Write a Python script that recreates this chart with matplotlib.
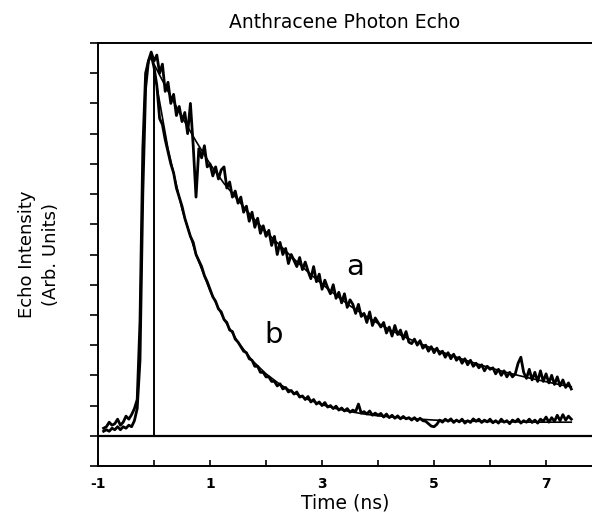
import numpy as np
import matplotlib
matplotlib.use("Agg")
import matplotlib.pyplot as plt

# echo decay traces (time in ns, arb. units)
t_data = np.arange(-0.9, 7.46, 0.05)

echo_a = [0.25, 0.3, 0.45, 0.35, 0.4, 0.55, 0.35, 0.45, 0.65, 0.55,
          0.7, 0.9, 1.2, 3.8, 9.5, 12.0, 12.4, 12.7, 12.4, 12.6,
          12.0, 12.3, 11.4, 11.7, 11.0, 11.3, 10.6, 10.9, 10.4, 10.7,
          10.0, 11.0, 9.6, 7.9, 9.5, 9.2, 9.6, 8.9, 9.0, 8.6,
          8.9, 8.5, 8.8, 8.9, 8.2, 8.4, 7.9, 8.1, 7.7, 7.9,
          7.4, 7.6, 7.1, 7.4, 6.9, 7.2, 6.7, 6.95, 6.6, 6.8,
          6.3, 6.6, 6.0, 6.4, 6.0, 6.2, 5.7, 6.0, 5.8, 5.6,
          5.9, 5.5, 5.75, 5.45, 5.2, 5.6, 5.1, 5.35, 4.85, 5.15,
          4.9, 4.7, 5.0, 4.55, 4.75, 4.4, 4.7, 4.25, 4.5, 4.35,
          4.05, 4.35, 3.95, 4.05, 3.75, 4.1, 3.65, 3.9, 3.75, 3.6,
          3.75, 3.4, 3.6, 3.3, 3.65, 3.35, 3.5, 3.2, 3.45, 3.1,
          3.05, 3.2, 3.0, 3.15, 2.9, 3.0, 2.8, 2.95, 2.75, 2.9,
          2.7, 2.8, 2.6, 2.75, 2.55, 2.7, 2.5, 2.6, 2.4, 2.55,
          2.35, 2.5, 2.3, 2.4, 2.25, 2.35, 2.15, 2.3, 2.2, 2.25,
          2.05, 2.2, 2.0, 2.15, 1.95, 2.1, 1.95, 2.05, 2.4, 2.6,
          2.1, 1.9, 2.2, 1.85, 2.1, 1.8, 2.15, 1.8, 2.05, 1.75,
          2.0, 1.7, 1.95, 1.65, 1.85, 1.6, 1.75, 1.55]

echo_b = [0.15, 0.2, 0.15, 0.25, 0.2, 0.3, 0.2, 0.3, 0.25, 0.35,
          0.3, 0.5, 0.9, 2.5, 8.0, 11.5, 12.4, 12.6, 12.2, 11.6,
          10.5, 10.3, 9.8, 9.4, 9.0, 8.7, 8.2, 7.9, 7.6, 7.2,
          6.9, 6.6, 6.4, 6.0, 5.8, 5.6, 5.3, 5.1, 4.85, 4.6,
          4.45, 4.2, 4.1, 3.85, 3.75, 3.5, 3.45, 3.2, 3.1, 2.95,
          2.8, 2.75, 2.55, 2.5, 2.3, 2.3, 2.1, 2.1, 1.95, 1.95,
          1.8, 1.8, 1.65, 1.72, 1.55, 1.6, 1.45, 1.5, 1.38, 1.45,
          1.28, 1.32, 1.2, 1.3, 1.12, 1.2, 1.05, 1.12, 1.0, 1.1,
          0.95, 1.0, 0.9, 0.98, 0.85, 0.92, 0.82, 0.9, 0.78, 0.85,
          0.8, 1.05, 0.75, 0.8, 0.72, 0.82, 0.68, 0.75, 0.68, 0.74,
          0.62, 0.72, 0.6, 0.68, 0.58, 0.66, 0.56, 0.64, 0.56, 0.6,
          0.52, 0.6, 0.5, 0.58, 0.5, 0.48, 0.4, 0.32, 0.3, 0.38,
          0.52, 0.45, 0.55, 0.48, 0.56, 0.44, 0.52, 0.46, 0.55, 0.42,
          0.5, 0.44, 0.56, 0.48, 0.55, 0.44, 0.52, 0.46, 0.55, 0.43,
          0.5, 0.42, 0.55, 0.45, 0.5, 0.4, 0.52, 0.46, 0.55, 0.42,
          0.5, 0.45, 0.55, 0.44, 0.52, 0.42, 0.55, 0.48, 0.62, 0.45,
          0.6, 0.48, 0.68, 0.5, 0.7, 0.52, 0.65, 0.55]

# fitted curves (start at t=0 with a vertical step)
t_fit = [0.0, 0.0, 0.25, 0.5, 0.75, 1.0, 1.25, 1.5, 1.75, 2.0, 2.25, 2.5, 2.75,
         3.0, 3.25, 3.5, 3.75, 4.0, 4.25, 4.5, 4.75, 5.0, 5.25, 5.5, 5.75,
         6.0, 6.25, 6.5, 6.75, 7.0, 7.25, 7.45]
fit_a = [0.0, 12.3, 11.4, 10.55, 9.75, 9.0, 8.35, 7.8, 7.25, 6.75, 6.3, 5.85, 5.42,
         5.02, 4.65, 4.3, 4.0, 3.72, 3.47, 3.25, 3.05, 2.87, 2.7, 2.54, 2.39,
         2.25, 2.12, 2.0, 1.89, 1.79, 1.69, 1.62]
fit_b = [0.0, 12.1, 9.5, 7.5, 6.0, 4.8, 3.85, 3.1, 2.5, 2.05, 1.7, 1.42, 1.2,
         1.03, 0.9, 0.8, 0.72, 0.66, 0.62, 0.58, 0.55, 0.52, 0.5, 0.49, 0.48,
         0.47, 0.46, 0.46, 0.45, 0.45, 0.45, 0.45]

xticks = [-1, 0, 1, 2, 3, 4, 5, 6, 7]
xticklabels = ['-1', '', '1', '', '3', '', '5', '', '7']

fig = plt.figure(figsize=(5.92, 5.15), dpi=100)
ax = fig.add_axes([98 / 592, 49 / 515, 494 / 592, 423 / 515])

ax.axhline(0, color='black', lw=1.6)
ax.plot(t_data, echo_a, color='black', lw=2.0)
ax.plot(t_data, echo_b, color='black', lw=2.0)
ax.plot(t_fit, fit_a, color='black', lw=1.2)
ax.plot(t_fit, fit_b, color='black', lw=1.2)

ax.text(3.6, 5.6, 'a', fontsize=21, ha='center', va='center')
ax.text(2.13, 3.35, 'b', fontsize=21, ha='center', va='center')

ax.set_xlim(-1, 7.82)
ax.set_ylim(-1, 13)
ax.set_xticks(xticks)
ax.set_xticklabels(xticklabels, fontsize=10, fontweight='bold')
ax.set_yticks(range(-1, 14))
ax.set_yticklabels([])
ax.tick_params(axis='x', direction='in', length=4, width=1.2, pad=8)
ax.tick_params(axis='y', direction='out', length=6, width=1.2)
ax.spines['right'].set_visible(False)
for s in ['left', 'top', 'bottom']:
    ax.spines[s].set_linewidth(1.4)

ax.set_title('Anthracene Photon Echo', fontsize=13.5, pad=11)
ax.set_xlabel('Time (ns)', fontsize=13.5, labelpad=2)
ax.set_ylabel('Echo Intensity\n(Arb. Units)', fontsize=13, labelpad=18, linespacing=1.4)

fig.savefig('out.png', dpi=100)
